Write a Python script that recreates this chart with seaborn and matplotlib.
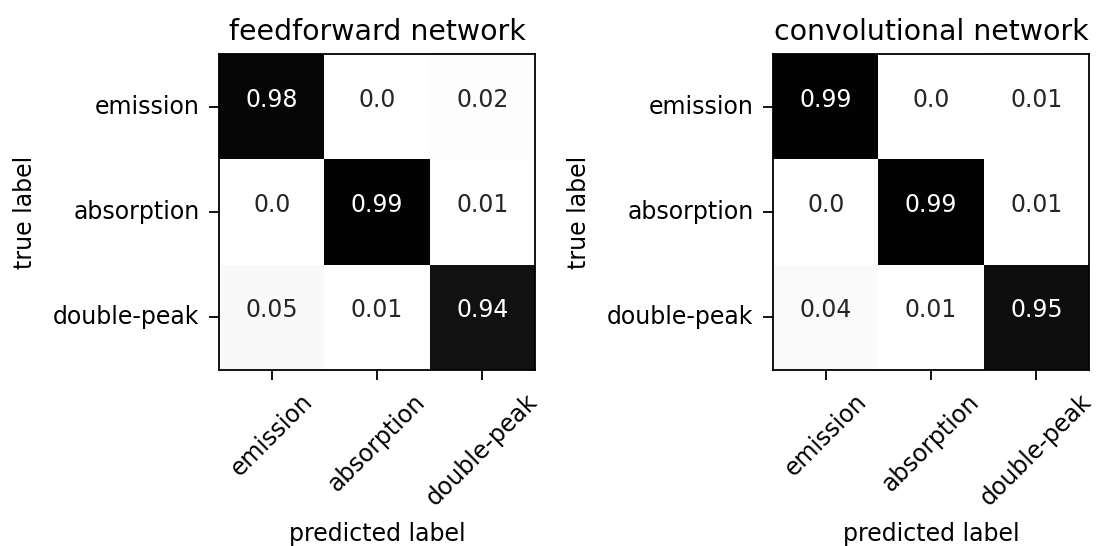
import numpy as np
import matplotlib
matplotlib.use("Agg")
import matplotlib.pyplot as plt
import seaborn as sns

classes = ["emission", "absorption", "double-peak"]
ffn_cm = [[0.98, 0.0, 0.02],
          [0.0, 0.99, 0.01],
          [0.05, 0.01, 0.94]]
cnn_cm = [[0.99, 0.0, 0.01],
          [0.0, 0.99, 0.01],
          [0.04, 0.01, 0.95]]
titles = ["feedforward network", "convolutional network"]

plt.rcParams['font.family'] = ['DejaVu Sans']
plt.rcParams['font.size'] = 17

fig = plt.figure(figsize=(10.99, 5.46), dpi=100)
positions = [[0.1993, 0.3223, 0.2875, 0.5788],
             [0.7034, 0.3223, 0.2875, 0.5788]]

for pos, cm, title in zip(positions, [ffn_cm, cnn_cm], titles):
    ax = fig.add_axes(pos)
    cm = np.array(cm)
    labels = np.array([[str(v) for v in row] for row in cm])
    sns.heatmap(cm, ax=ax, cmap='Greys', vmin=0, vmax=1, cbar=False,
                annot=labels, fmt='', annot_kws={'fontsize': 17, 'va': 'baseline'},
                xticklabels=classes, yticklabels=classes)
    for s in ax.spines.values():
        s.set_visible(True)
        s.set_linewidth(1.3)
        s.set_color('black')
    ax.tick_params(length=7, width=1.3, pad=7, labelsize=17)
    plt.setp(ax.get_xticklabels(), rotation=45, ha='center')
    plt.setp(ax.get_yticklabels(), rotation=0)
    ax.set_title(title, fontsize=20.4, pad=10)
    ax.set_xlabel('predicted label', fontsize=17, labelpad=9)
    ax.set_ylabel('true label', fontsize=17, labelpad=12)

fig.savefig('out.png', dpi=100)
